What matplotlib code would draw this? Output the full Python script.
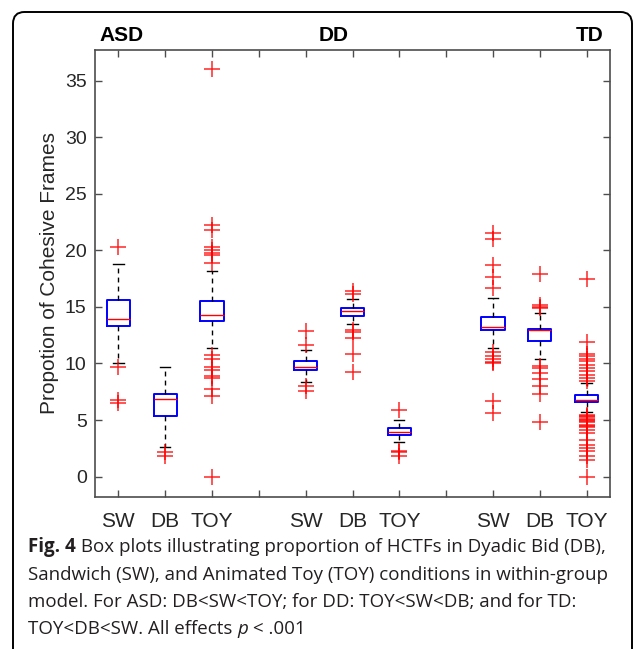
import numpy as np
import matplotlib
matplotlib.use("Agg")
import matplotlib.pyplot as plt
from matplotlib.patches import FancyBboxPatch
from matplotlib.transforms import blended_transform_factory

# group / condition names
groups = ["ASD", "DD", "TD"]
conditions = ["SW", "DB", "TOY"]

# box statistics, in plotting order (ASD SW .. TD TOY)
medians = [13.9, 6.83, 14.24, 9.68, 14.68, 3.91, 13.24, 12.97, 6.74]
q1s = [13.3, 5.4, 13.72, 9.4, 14.18, 3.67, 12.97, 12.0, 6.59]
q3s = [15.6, 7.27, 15.55, 10.18, 14.86, 4.32, 14.1, 13.08, 7.24]
whisk_lo = [10.0, 2.62, 11.35, 8.33, 13.5, 3.03, 11.38, 10.42, 5.74]
whisk_hi = [18.8, 9.7, 18.2, 11.2, 15.68, 5.03, 15.8, 14.42, 8.27]

# outliers
fliers = [
    [20.3, 9.68, 6.75, 6.55],
    [2.2, 1.85],
    [36.0, 22.2, 21.8, 20.3, 20.0, 19.8, 19.6, 18.86,
     10.75, 10.4, 9.7, 9.4, 8.85, 8.7, 7.7, 7.15, 0.0],
    [12.86, 11.65, 8.03, 7.56],
    [16.36, 16.18, 12.97, 12.74, 12.24, 10.86, 9.27],
    [5.91, 2.26, 2.15, 1.8],
    [21.5, 21.0, 18.7, 17.65, 16.7, 11.0, 10.7, 10.4, 10.15, 10.05, 6.65, 5.62],
    [17.88, 15.2, 15.03, 14.9, 9.8, 9.6, 9.15, 8.62, 8.03, 7.3, 4.85],
    [17.47, 11.94, 10.88, 10.62, 10.39, 10.18, 9.88, 9.59, 9.3, 9.0, 8.71, 8.41,
     5.47, 5.4, 5.27, 5.1, 5.03, 4.9, 4.79, 4.59, 4.5, 4.38, 4.15, 3.86, 3.27,
     2.82, 2.53, 2.24, 1.85, 1.5, 0.0],
]

positions = [1, 2, 3, 5, 6, 7, 9, 10, 11]

plt.rcParams['font.family'] = ['Liberation Sans', 'DejaVu Sans']

fig = plt.figure(figsize=(6.34, 6.49), dpi=100)
W, H = 634, 649

# rounded outer frame
frame = FancyBboxPatch((13 / W, -0.1), (632 - 13) / W, 1 - 12 / H + 0.1,
                       boxstyle="round,pad=0,rounding_size=0.018",
                       transform=fig.transFigure, facecolor='none',
                       edgecolor='black', linewidth=1.4, zorder=0)
fig.patches.append(frame)

ax = fig.add_axes([95 / W, 1 - 497 / H, (610 - 95) / W, (497 - 50) / H])

stats = []
for i in range(len(positions)):
    stats.append(dict(med=medians[i], q1=q1s[i], q3=q3s[i],
                      whislo=whisk_lo[i], whishi=whisk_hi[i], fliers=fliers[i]))

ax.bxp(stats, positions=positions, widths=0.5, capwidths=0.22,
       boxprops=dict(color='#0000ff', linewidth=1.4),
       medianprops=dict(color='#ff0000', linewidth=1.0),
       whiskerprops=dict(color='black', linewidth=1.0, linestyle=(0, (3.5, 3))),
       capprops=dict(color='black', linewidth=1.0),
       flierprops=dict(marker='+', markeredgecolor='#ff0000', markersize=11,
                       markeredgewidth=1.1, alpha=0.85, linestyle='none'))

ax.set_xlim(0.5, 11.5)
ax.set_ylim(-1.8, 37.7)
ax.set_yticks([0, 5, 10, 15, 20, 25, 30, 35])
ax.set_xticks(range(1, 12))
xlabels = []
for k in range(1, 12):
    if k in positions:
        xlabels.append(conditions[positions.index(k) % 3])
    else:
        xlabels.append('')
ax.set_xticklabels(xlabels)

for s in ax.spines.values():
    s.set_color('#4d4d4d')
    s.set_linewidth(1.2)
ax.tick_params(direction='in', top=True, right=True, length=5, width=1,
               color='#4d4d4d', labelcolor='#262626')
ax.tick_params(axis='y', labelsize=14, pad=6)
ax.tick_params(axis='x', labelsize=15, pad=11)
ax.set_ylabel('Propotion of Cohesive Frames', fontsize=15, color='#262626',
              labelpad=4)

# group titles above the axes
trans = blended_transform_factory(ax.transData, ax.transAxes)
tkw = dict(transform=trans, va='bottom', fontsize=15, fontweight='bold')
ax.text(0.6, 1.012, groups[0], ha='left', **tkw)
ax.text(5.6, 1.012, groups[1], ha='center', **tkw)
ax.text(11.36, 1.012, groups[2], ha='right', **tkw)

# caption, built piece by piece
cap_lines = [
    [("Fig. 4", 'bold', 'normal'),
     (" Box plots illustrating proportion of HCTFs in Dyadic Bid (DB),", 'normal', 'normal')],
    [("Sandwich (SW), and Animated Toy (TOY) conditions in within-group", 'normal', 'normal')],
    [("model. For ASD: DB<SW<TOY; for DD: TOY<SW<DB; and for TD:", 'normal', 'normal')],
    [("TOY<DB<SW. All effects ", 'normal', 'normal'), ("p", 'normal', 'italic'),
     (" < .001", 'normal', 'normal')],
]
cap_y = [547, 575, 602, 629]
renderer = fig.canvas.get_renderer()
for line, yy in zip(cap_lines, cap_y):
    x = 28
    for txt, wt, st in line:
        t = fig.text(x / W, 1 - yy / H, txt, ha='left', va='center',
                     fontsize=13.5, fontweight=wt, fontstyle=st,
                     family=['Open Sans', 'DejaVu Sans'], color='#231f20')
        bb = t.get_window_extent(renderer=renderer)
        x += bb.width

fig.savefig('out.png', dpi=100)
